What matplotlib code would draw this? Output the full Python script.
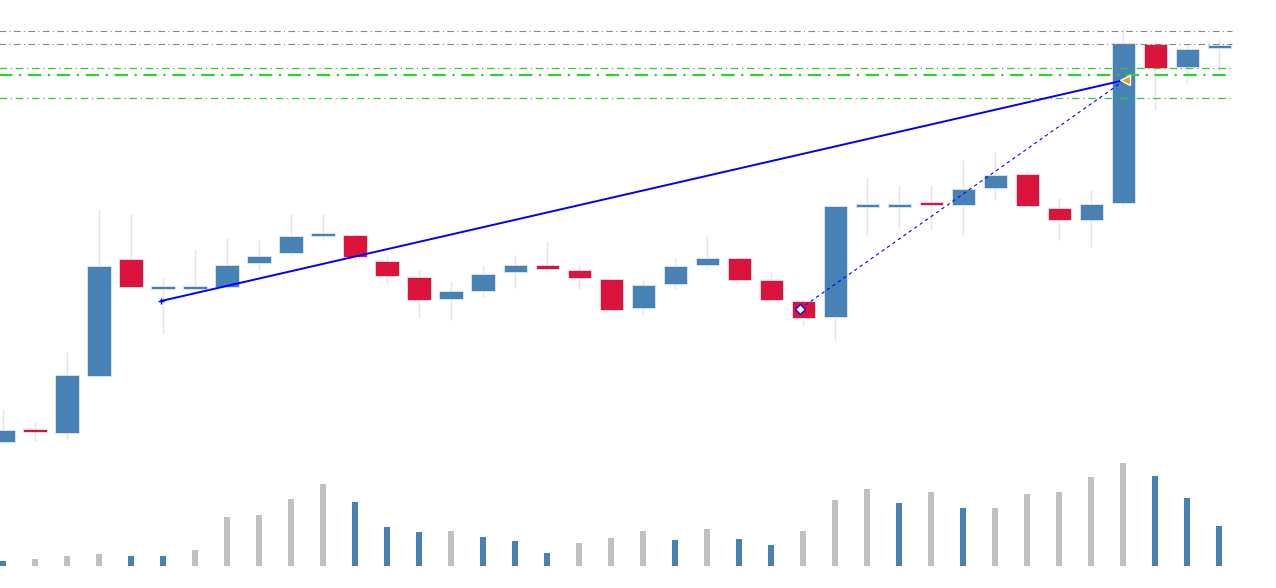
import numpy as np
import matplotlib.pyplot as plt
from matplotlib.patches import Rectangle

# candle data (price units), index = bar number
opens  = [158, 170, 167, 224, 341, 311, 311, 313, 337, 347, 364, 365, 339, 323, 301, 309, 328, 335, 330, 321, 292, 316, 335, 342, 320, 299, 283, 393, 393, 396, 395, 412, 426, 392, 380, 397, 556, 533, 552]
closes = [170, 168, 225, 334, 313, 312, 312, 335, 344, 364, 366, 343, 324, 300, 309, 326, 335, 331, 322, 290, 315, 334, 342, 320, 300, 282, 394, 393, 396, 395, 411, 425, 394, 380, 396, 557, 532, 551, 554]
highs  = [190, 179, 248, 391, 386, 323, 350, 363, 360, 387, 387, 368, 344, 330, 318, 334, 345, 358, 335, 321, 320, 342, 364, 342, 328, 301, 394, 423, 415, 415, 440, 448, 430, 402, 410, 573, 560, 555, 562]
lows   = [158, 158, 160, 224, 313, 267, 310, 310, 330, 344, 360, 338, 316, 282, 280, 302, 312, 328, 310, 290, 285, 310, 331, 317, 298, 275, 260, 365, 372, 370, 365, 400, 394, 360, 353, 393, 490, 517, 530]
volumes = [5, 7, 10, 12, 10, 10, 16, 49, 51, 67, 82, 64, 39, 34, 35, 29, 25, 13, 23, 28, 35, 26, 37, 27, 21, 35, 66, 77, 63, 74, 58, 58, 72, 74, 89, 103, 90, 68, 40]
vol_blue = [1, 0, 0, 0, 1, 1, 0, 0, 0, 0, 0, 1, 1, 1, 0, 1, 1, 1, 0, 0, 0, 1, 0, 1, 1, 0, 0, 0, 1, 0, 1, 0, 0, 0, 0, 0, 1, 1, 1]
doji_red = [1, 29]

gray_levels = [569, 556]
green_levels = [532, 525, 502]
trend = ([4.94, 35.06], [299, 520])
dashed = ([24.9, 35.06], [291, 520])

BLUE, RED, GREY = "#4682b4", "#dc143c", "#c0c0c0"
vol_base = 34

fig = plt.figure(figsize=(12.76, 5.88), dpi=100)
ax = fig.add_axes([0, 0, 1, 1])
ax.axis("off")

for i, (o, c, h, l) in enumerate(zip(opens, closes, highs, lows)):
    col = BLUE if c >= o else RED
    if i in doji_red:
        col = RED
    ax.vlines(i, l, h, color="#e4e4f0", lw=1, zorder=1)
    lo, hi = min(o, c), max(o, c)
    ht = max(hi - lo, 3)
    ax.add_patch(Rectangle((i - 0.36, lo), 0.72, ht, facecolor=col,
                           edgecolor="#e4e4f4", lw=0.6, zorder=2))

for i, v in enumerate(volumes):
    ax.bar(i, v, width=0.16, bottom=vol_base, color=BLUE if vol_blue[i] else GREY, zorder=1)

for y in gray_levels:
    ax.hlines(y, -0.2, 38.4, color="#888888", lw=0.8, linestyles=(0, (6, 3, 1, 3)))
for j, y in enumerate(green_levels):
    ax.hlines(y, -0.2, 38.4, color="#33cc33", lw=1.6 if j == 1 else 0.9,
              linestyles=(0, (6, 3, 1, 3)))

ax.plot(trend[0], trend[1], color="#0000ff", lw=1.4, zorder=4)
ax.plot(trend[0][0], trend[1][0], marker="+", color="#0000ff", ms=5, zorder=5)
ax.plot(dashed[0], dashed[1], color="#0000ff", lw=0.8, ls=(0, (3, 3)), zorder=4)
ax.plot(dashed[0][0], dashed[1][0], marker="D", ms=5, mfc="white", mec="#0000ff", zorder=5)
ax.plot(trend[0][1], trend[1][1], marker="<", ms=7, color="#daa520", mec="white", zorder=5)

ax.set_xlim(-0.094, 39.78)
ax.set_ylim(12, 600)
fig.savefig("out.png", dpi=100)
